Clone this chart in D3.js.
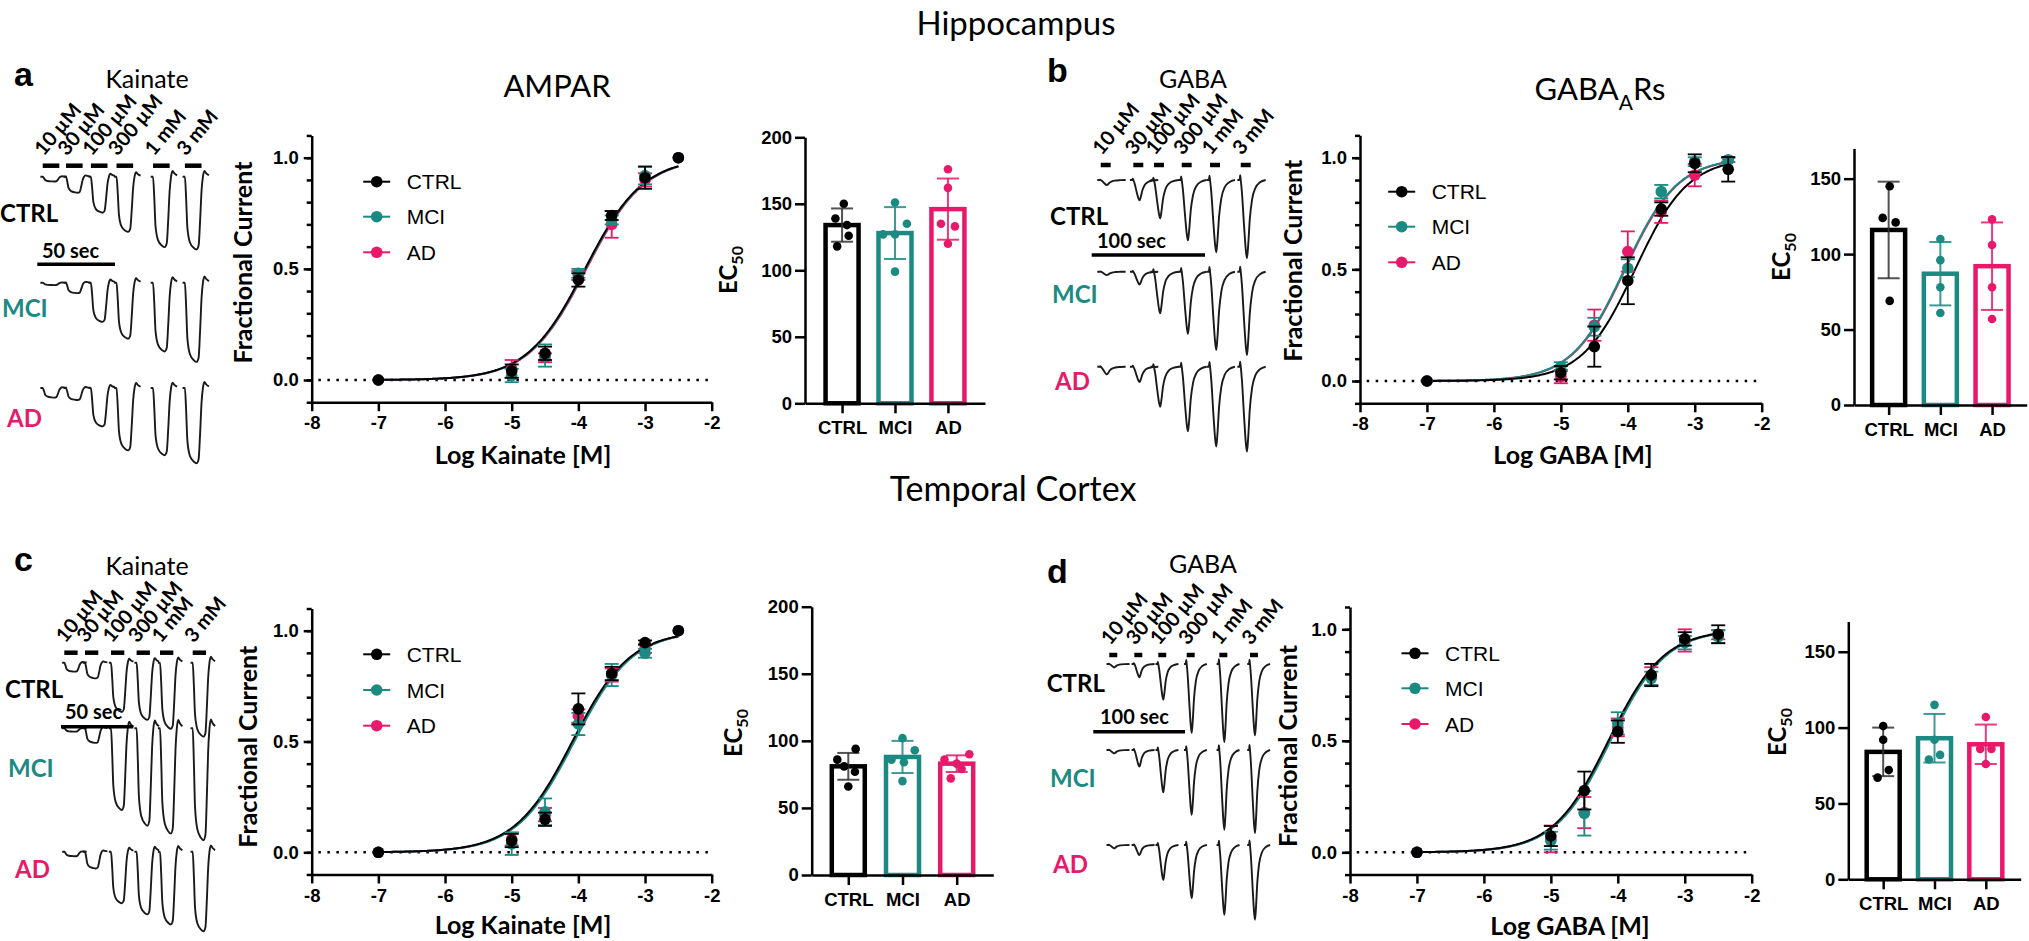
<!DOCTYPE html>
<html><head><meta charset="utf-8">
<script src="https://cdn.jsdelivr.net/npm/d3@7"></script>
<style>body{margin:0;background:#fff}</style>
</head><body>
<svg id="fig" width="2029" height="941"></svg>
<script>
// ---------------- DATA ----------------
const groups = ["CTRL", "MCI", "AD"];
const groupColors = ["#000000", "#1a8a83", "#e8196a"];
const logConc = [-7, -5, -4.5, -4, -3.5, -3, -2.5];
const concLabels = ["10 µM", "30 µM", "100 µM", "300 µM", "1 mM", "3 mM"];
const xTicks = [-8, -7, -6, -5, -4, -3, -2];
const yTicksMajor = [0, 0.5, 1.0];

// a: hippocampus, kainate (AMPAR)
const hipKaiCTRL = [0, 0.04, 0.12, 0.45, 0.74, 0.91, 1.0];
const hipKaiCTRLerr = [0, 0.03, 0.03, 0.03, 0.02, 0.05, 0];
const hipKaiMCI = [0, 0.02, 0.11, 0.48, 0.72, 0.92, 1.0];
const hipKaiMCIerr = [0, 0.03, 0.05, 0.02, 0.02, 0.04, 0];
const hipKaiAD = [0, 0.05, 0.10, 0.47, 0.70, 0.90, 1.0];
const hipKaiADerr = [0, 0.04, 0.02, 0.02, 0.06, 0.03, 0];
const hipKaiLogEC50 = [-3.90, -3.89, -3.88];
const hipKaiHill = [1.0, 1.0, 1.0];
const hipKaiEC50Mean = [134, 128, 146];
const hipKaiEC50SD = [12.5, 19.5, 23];
const hipKaiEC50CTRL = [150, 139, 134, 126, 118];
const hipKaiEC50MCI = [151, 135, 127, 127, 99];
const hipKaiEC50AD = [176, 162, 135, 133, 120];
const hipKaiJitCTRL = [0.25, -0.95, 0.7, 0.95, -0.7];
const hipKaiJitMCI = [0, 1.7, -1.7, 0, 0];
const hipKaiJitAD = [0, 0, -1, 1, 0];
const hipKaiOnsets = [0, 15, 31, 47.5, 71, 91.5];
const hipKaiPeakCTRL = [0.06, 0.20, 0.45, 0.69, 0.88, 0.91];
const hipKaiPeakMCI = [0.03, 0.13, 0.49, 0.70, 0.86, 0.99];
const hipKaiPeakAD = [0.12, 0.15, 0.48, 0.78, 0.84, 0.94];

// b: hippocampus, GABA (GABAA Rs)
const hipGabaCTRL = [0, 0.037, 0.154, 0.449, 0.77, 0.975, 0.948];
const hipGabaCTRLerr = [0, 0.03, 0.09, 0.105, 0.03, 0.04, 0.055];
const hipGabaMCI = [0, 0.064, 0.243, 0.505, 0.848, 0.982, 0.99];
const hipGabaMCIerr = [0, 0.02, 0.04, 0.04, 0.03, 0.02, 0.01];
const hipGabaAD = [0, 0.02, 0.25, 0.58, 0.758, 0.922, 0.99];
const hipGabaADerr = [0, 0.03, 0.07, 0.09, 0.05, 0.05, 0.01];
const hipGabaLogEC50 = [-3.89, -4.05, -4.04];
const hipGabaHill = [1.1, 1.1, 1.1];
const hipGabaEC50Mean = [116, 87, 92];
const hipGabaEC50SD = [32, 21, 29];
const hipGabaEC50CTRL = [145, 124, 121, 69];
const hipGabaEC50MCI = [110, 96, 78, 61];
const hipGabaEC50AD = [123, 106, 78, 57];
const hipGabaJitCTRL = [0.15, -0.85, 1, 0.15];
const hipGabaJitMCI = [0, 0, 0, 0];
const hipGabaJitAD = [0, 0, 0, 0];
const hipGabaOnsets = [0, 28.8, 47, 71.5, 96.5, 123.6];
const hipGabaPeakCTRL = [0.06, 0.24, 0.45, 0.71, 0.85, 0.92];
const hipGabaPeakMCI = [0.04, 0.15, 0.49, 0.73, 0.92, 0.98];
const hipGabaPeakAD = [0.09, 0.18, 0.47, 0.76, 0.94, 1.0];

// c: temporal cortex, kainate
const ctxKaiCTRL = [0, 0.053, 0.149, 0.647, 0.807, 0.946, 1.0];
const ctxKaiCTRLerr = [0, 0.03, 0.03, 0.07, 0.03, 0.01, 0];
const ctxKaiMCI = [0, 0.038, 0.183, 0.579, 0.80, 0.898, 1.0];
const ctxKaiMCIerr = [0, 0.05, 0.06, 0.05, 0.05, 0.02, 0];
const ctxKaiAD = [0, 0.06, 0.17, 0.615, 0.80, 0.92, 1.0];
const ctxKaiADerr = [0, 0.03, 0.03, 0.03, 0.03, 0.02, 0];
const ctxKaiLogEC50 = [-4.09, -4.06, -4.075];
const ctxKaiHill = [1.0, 1.0, 1.0];
const ctxKaiEC50Mean = [81, 88, 83];
const ctxKaiEC50SD = [10, 12, 6.2];
const ctxKaiEC50CTRL = [94, 86, 81, 77, 66];
const ctxKaiEC50MCI = [102, 93, 86, 84, 70];
const ctxKaiEC50AD = [90, 86, 83, 79, 72];
const ctxKaiJitCTRL = [1.05, -1.57, -0.6, 0.95, 0];
const ctxKaiJitMCI = [0, 1.75, -1.57, 0.2, 0];
const ctxKaiJitAD = [1.8, -1.75, 0, 0.7, -0.85];
const ctxKaiOnsets = [0, 14.3, 32.3, 50, 66.2, 88.8];
const ctxKaiPeakCTRL = [0.08, 0.14, 0.44, 0.51, 0.59, 0.66];
const ctxKaiPeakMCI = [0.03, 0.13, 0.73, 0.87, 0.94, 1.0];
const ctxKaiPeakAD = [0.04, 0.15, 0.46, 0.56, 0.65, 0.71];

// d: temporal cortex, GABA
const ctxGabaCTRL = [0, 0.073, 0.277, 0.541, 0.795, 0.957, 0.978];
const ctxGabaCTRLerr = [0, 0.045, 0.085, 0.05, 0.05, 0.03, 0.04];
const ctxGabaMCI = [0, 0.052, 0.175, 0.578, 0.78, 0.94, 0.967];
const ctxGabaMCIerr = [0, 0.04, 0.1, 0.05, 0.03, 0.03, 0.03];
const ctxGabaAD = [0, 0.06, 0.178, 0.56, 0.79, 0.95, 0.975];
const ctxGabaADerr = [0, 0.06, 0.07, 0.04, 0.04, 0.05, 0.02];
const ctxGabaLogEC50 = [-4.14, -4.11, -4.12];
const ctxGabaHill = [1.05, 1.05, 1.05];
const ctxGabaEC50Mean = [84, 93, 89];
const ctxGabaEC50SD = [16, 16, 13];
const ctxGabaEC50CTRL = [101, 92, 72, 67];
const ctxGabaEC50MCI = [115, 92, 82, 79];
const ctxGabaEC50AD = [107, 86, 86, 76];
const ctxGabaJitCTRL = [0, 0, 0.8, -0.8];
const ctxGabaJitMCI = [0, 0, 0.8, -0.8];
const ctxGabaJitAD = [0, -0.8, 0.8, 0];
const ctxGabaOnsets = [0, 27.3, 53.4, 84.4, 120, 153.4];
const ctxGabaPeakCTRL = [0.04, 0.16, 0.43, 0.83, 0.94, 0.86];
const ctxGabaPeakMCI = [0.04, 0.20, 0.51, 0.78, 0.96, 1.0];
const ctxGabaPeakAD = [0.04, 0.12, 0.42, 0.64, 0.84, 0.90];

// ---------------- DRAWING ----------------
const ARIAL = "'Liberation Sans', Arial, sans-serif";
const CAL = "Lato, 'Open Sans', sans-serif";
const svg = d3.select("#fig");
svg.append("rect").attr("width", 2029).attr("height", 941).attr("fill", "#fff");

function txt(x, y, s, o = {}) {
  const t = svg.append("text").attr("x", x).attr("y", y).text(s)
    .attr("font-family", o.family || CAL).attr("font-size", o.size || 20)
    .attr("font-weight", o.weight || "normal").attr("fill", o.fill || "#000")
    .attr("text-anchor", o.anchor || "start");
  if (o.transform) t.attr("transform", o.transform);
  return t;
}

function styleAxis(g, size) {
  g.attr("font-family", ARIAL).attr("font-size", size).attr("font-weight", "bold");
  g.selectAll("path.domain").attr("stroke", "#000").attr("stroke-width", 2.5);
  g.selectAll(".tick line").attr("stroke", "#000").attr("stroke-width", 2.5);
  g.selectAll("text").attr("fill", "#000");
}

function hill(x, logEC50, n) { return 1 / (1 + Math.pow(10, (logEC50 - x) * n)); }

function drawDoseResponse(p) {
  const unit = p.zeroY - p.oneY;
  const x = d3.scaleLinear().domain([-8, -2]).range([p.x0, p.x1]);
  const y = d3.scaleLinear().domain([-0.1, 1.1]).range([p.zeroY + 0.1 * unit, p.oneY - 0.1 * unit]);
  const g = svg.append("g");
  const gm = g.append("g").attr("transform", `translate(${p.x0},0)`)
    .call(d3.axisLeft(y).tickValues(d3.range(-1, 12).map(i => i / 10)).tickSize(5).tickFormat(""));
  gm.select(".domain").remove();
  styleAxis(gm, 18.5);
  const gy = g.append("g").attr("transform", `translate(${p.x0},0)`)
    .call(d3.axisLeft(y).tickValues(yTicksMajor).tickSize(8).tickSizeOuter(0).tickPadding(5).tickFormat(d3.format(".1f")));
  styleAxis(gy, 18.5);
  const gx = g.append("g").attr("transform", `translate(0,${y(-0.1)})`)
    .call(d3.axisBottom(x).tickValues(xTicks).tickSize(9).tickSizeOuter(0).tickPadding(5).tickFormat(d => String(d)));
  styleAxis(gx, 18.5);
  g.append("line").attr("x1", x(-7.9)).attr("x2", x(-2)).attr("y1", y(0)).attr("y2", y(0))
    .attr("stroke", "#000").attr("stroke-width", 2.5).attr("stroke-dasharray", "2.5,6.5");
  const xs = d3.range(-7, -2.499, 0.02);
  [2, 1, 0].forEach(gi => {
    const line = d3.line().x(d => x(d)).y(d => y(hill(d, p.logEC50[gi], p.hill[gi])));
    g.append("path").attr("d", line(xs)).attr("fill", "none")
      .attr("stroke", groupColors[gi]).attr("stroke-width", 2);
  });
  [2, 1, 0].forEach(gi => {
    const m = p.means[gi], e = p.errs[gi], c = groupColors[gi];
    logConc.forEach((lc, i) => {
      if (e[i] > 0) {
        const cx = x(lc);
        g.append("line").attr("x1", cx).attr("x2", cx).attr("y1", y(m[i] - e[i])).attr("y2", y(m[i] + e[i])).attr("stroke", c).attr("stroke-width", 1.8);
        [m[i] - e[i], m[i] + e[i]].forEach(v => g.append("line").attr("x1", cx - 7).attr("x2", cx + 7).attr("y1", y(v)).attr("y2", y(v)).attr("stroke", c).attr("stroke-width", 1.8));
      }
    });
    g.selectAll(null).data(logConc).enter().append("circle")
      .attr("cx", d => x(d)).attr("cy", (d, i) => y(m[i])).attr("r", 5.8).attr("fill", c);
  });
  groups.forEach((gname, gi) => {
    const ly = p.legY[gi];
    g.append("line").attr("x1", p.legX - 13.5).attr("x2", p.legX + 13.5).attr("y1", ly).attr("y2", ly).attr("stroke", groupColors[gi]).attr("stroke-width", 2);
    g.append("circle").attr("cx", p.legX).attr("cy", ly).attr("r", 5.8).attr("fill", groupColors[gi]);
    txt(p.legX + 30, ly + 7.5, gname, { family: ARIAL, size: 21 });
  });
  txt(p.yLabX, p.yLabY, "Fractional Current", { size: 25, weight: "bold", anchor: "middle", transform: `rotate(-90,${p.yLabX},${p.yLabY})` });
  txt(p.xLabX, p.xLabY, p.xLabel, { size: 25, weight: "bold", anchor: "middle" });
}

function drawBars(p) {
  const x = d3.scalePoint().domain(groups).range([p.ax, p.axEnd]).padding(p.pad);
  const y = d3.scaleLinear().domain([0, p.yMax]).range([p.zeroY, p.zeroY - p.yMax * p.pxPerUnit]);
  const g = svg.append("g");
  const bw = 33;
  groups.forEach((gn, gi) => {
    const cx = x(gn), c = groupColors[gi];
    g.append("rect").attr("x", cx - bw / 2).attr("y", y(p.means[gi])).attr("width", bw)
      .attr("height", p.zeroY - y(p.means[gi])).attr("fill", "#fff").attr("stroke", c).attr("stroke-width", 4.5);
  });
  const gy = g.append("g").attr("transform", `translate(${p.ax},0)`)
    .call(d3.axisLeft(y).tickValues(p.ticks).tickSize(10).tickSizeOuter(0).tickPadding(3));
  styleAxis(gy, 18.5);
  const gx = g.append("g").attr("transform", `translate(0,${p.zeroY})`)
    .call(d3.axisBottom(x).tickSize(10).tickSizeOuter(0).tickPadding(8));
  styleAxis(gx, 18.5);
  groups.forEach((gn, gi) => {
    const cx = x(gn), c = gi === 0 ? "#333" : groupColors[gi];
    const m = p.means[gi], s = p.sds[gi];
    g.append("line").attr("x1", cx).attr("x2", cx).attr("y1", y(m - s)).attr("y2", y(m + s)).attr("stroke", c).attr("stroke-width", 2).attr("opacity", 0.85);
    [m - s, m + s].forEach(v => g.append("line").attr("x1", cx - 11).attr("x2", cx + 11).attr("y1", y(v)).attr("y2", y(v)).attr("stroke", c).attr("stroke-width", 2).attr("opacity", 0.85));
    g.selectAll(null).data(p.points[gi]).enter().append("circle")
      .attr("cx", (d, i) => cx + p.jitter[gi][i] * 7).attr("cy", d => y(d)).attr("r", 4.3).attr("fill", groupColors[gi]);
  });
  const lab = txt(p.labX, p.labY, "EC", { size: 24, weight: "bold", anchor: "middle", transform: `rotate(-90,${p.labX},${p.labY})` });
  lab.append("tspan").attr("font-size", 16).attr("dy", 6).text("50");
}

const kaiShape = [[-1.5, 0], [0, 0], [0.8, 0.3], [1.6, 0.7], [3.2, 0.9], [5.8, 0.98], [7.5, 1.0], [8.8, 0.95], [9.8, 0.6], [10.7, 0.2], [11.6, 0], [12.6, -0.08], [13.6, -0.05], [15.5, -0.02]];
const gabaShape = [[-3, 0], [-1, 0], [-0.5, -0.06], [0, 0], [1, 0.15], [3, 0.6], [4.5, 0.9], [5.5, 1.0], [6.5, 0.85], [8, 0.5], [10, 0.25], [13, 0.1], [17, 0.03], [22, 0]];

function drawTraces(p) {
  const t = d3.scaleLinear().domain([0, 100]).range([p.x0, p.x0 + 100 * p.pxPerSec]);
  const g = svg.append("g");
  p.onsets.forEach((on, i) => {
    g.append("line").attr("x1", t(on)).attr("x2", t(on + p.barDur)).attr("y1", p.barY).attr("y2", p.barY)
      .attr("stroke", "#000").attr("stroke-width", 4.5);
    txt(0, 0, concLabels[i], { size: 20, weight: "bold", transform: `translate(${t(on) + 1},${p.barY - 9}) rotate(-50)` });
  });
  p.peaks.forEach((arr, gi) => {
    const amp = d3.scaleLinear().domain([0, 1]).range([p.baselines[gi], p.baselines[gi] + p.ampPx]);
    arr.forEach((pk, i) => {
      const line = d3.line().x(d => t(p.onsets[i] + d[0])).y(d => amp(pk * d[1])).curve(d3.curveMonotoneX);
      g.append("path").attr("d", line(p.shape)).attr("fill", "none").attr("stroke", "#1a1a1a").attr("stroke-width", 1.9);
    });
    txt(p.labelX[gi], p.labelY[gi], groups[gi], { size: 24, weight: "bold", fill: gi === 0 ? "#000" : groupColors[gi] });
  });
  g.append("line").attr("x1", p.sbX).attr("x2", p.sbX + (t(p.sbSec) - t(0))).attr("y1", p.sbY).attr("y2", p.sbY)
    .attr("stroke", "#000").attr("stroke-width", 3.5);
  txt(p.sbTextX, p.sbTextY, p.sbSec + " sec", { size: 20, weight: "bold" });
  txt(p.letterX, p.letterY, p.letter, { family: ARIAL, size: 34, weight: "bold" });
  txt(p.drugX, p.drugY, p.drug, { size: 25, anchor: "middle" });
}

// Section titles
txt(1016, 35, "Hippocampus", { size: 33, anchor: "middle" });
txt(1013, 501, "Temporal Cortex", { size: 34, anchor: "middle" });
// Line chart titles
txt(557, 97, "AMPAR", { size: 31, anchor: "middle" });
const gt = txt(1600, 100, "GABA", { size: 31, anchor: "middle" });
gt.append("tspan").attr("font-size", 21).attr("dy", 10).text("A");
gt.append("tspan").attr("dy", -10).text("Rs");

// ---- Panel a
drawTraces({ letter: "a", letterX: 14, letterY: 86, drug: "Kainate", drugX: 147, drugY: 88,
  x0: 42.7, pxPerSec: 1.554, onsets: hipKaiOnsets, barDur: 10.7, barY: 165.7,
  baselines: [176.7, 282.7, 388], ampPx: 80, shape: kaiShape,
  peaks: [hipKaiPeakCTRL, hipKaiPeakMCI, hipKaiPeakAD],
  labelX: [0, 2, 7], labelY: [222, 317, 427],
  sbSec: 50, sbX: 37.3, sbY: 264.3, sbTextX: 42, sbTextY: 258 });
drawDoseResponse({ x0: 311.7, x1: 711.7, zeroY: 380, oneY: 157.7,
  means: [hipKaiCTRL, hipKaiMCI, hipKaiAD], errs: [hipKaiCTRLerr, hipKaiMCIerr, hipKaiADerr],
  logEC50: hipKaiLogEC50, hill: hipKaiHill,
  legX: 376.7, legY: [181.7, 216.7, 252.3],
  yLabX: 252, yLabY: 262.5, xLabX: 523, xLabY: 464, xLabel: "Log Kainate [M]" });
drawBars({ ax: 805, axEnd: 985, pad: 0.7, zeroY: 403.3, pxPerUnit: 1.33, yMax: 200, ticks: [0, 50, 100, 150, 200],
  means: hipKaiEC50Mean, sds: hipKaiEC50SD, points: [hipKaiEC50CTRL, hipKaiEC50MCI, hipKaiEC50AD],
  jitter: [hipKaiJitCTRL, hipKaiJitMCI, hipKaiJitAD], labX: 737, labY: 270 });

// ---- Panel b
drawTraces({ letter: "b", letterX: 1047, letterY: 82, drug: "GABA", drugX: 1193, drugY: 88,
  x0: 1100.7, pxPerSec: 1.133, onsets: hipGabaOnsets, barDur: 8.8, barY: 165,
  baselines: [180, 271.7, 366.7], ampPx: 85, shape: gabaShape,
  peaks: [hipGabaPeakCTRL, hipGabaPeakMCI, hipGabaPeakAD],
  labelX: [1050, 1052, 1055], labelY: [225, 303, 390],
  sbSec: 100, sbX: 1091.7, sbY: 255, sbTextX: 1097, sbTextY: 248 });
drawDoseResponse({ x0: 1360, x1: 1761.7, zeroY: 381, oneY: 157.7,
  means: [hipGabaCTRL, hipGabaMCI, hipGabaAD], errs: [hipGabaCTRLerr, hipGabaMCIerr, hipGabaADerr],
  logEC50: hipGabaLogEC50, hill: hipGabaHill,
  legX: 1401.7, legY: [191.7, 226.7, 262.3],
  yLabX: 1301.7, yLabY: 260.7, xLabX: 1573, xLabY: 464, xLabel: "Log GABA [M]" });
drawBars({ ax: 1854, axEnd: 2026.7, pad: 0.67, zeroY: 405, pxPerUnit: 1.509, yMax: 170, ticks: [0, 50, 100, 150],
  means: hipGabaEC50Mean, sds: hipGabaEC50SD, points: [hipGabaEC50CTRL, hipGabaEC50MCI, hipGabaEC50AD],
  jitter: [hipGabaJitCTRL, hipGabaJitMCI, hipGabaJitAD], labX: 1790, labY: 257 });

// ---- Panel c
drawTraces({ letter: "c", letterX: 14, letterY: 571, drug: "Kainate", drugX: 147, drugY: 575,
  x0: 64.3, pxPerSec: 1.446, onsets: ctxKaiOnsets, barDur: 9.2, barY: 652.7,
  baselines: [662.7, 728.3, 851.7], ampPx: 112, shape: kaiShape,
  peaks: [ctxKaiPeakCTRL, ctxKaiPeakMCI, ctxKaiPeakAD],
  labelX: [5, 8, 15], labelY: [698, 777, 878],
  sbSec: 50, sbX: 61, sbY: 726.7, sbTextX: 65, sbTextY: 719 });
drawDoseResponse({ x0: 311.7, x1: 711.7, zeroY: 852.3, oneY: 630.7,
  means: [ctxKaiCTRL, ctxKaiMCI, ctxKaiAD], errs: [ctxKaiCTRLerr, ctxKaiMCIerr, ctxKaiADerr],
  logEC50: ctxKaiLogEC50, hill: ctxKaiHill,
  legX: 376.7, legY: [654.3, 690, 725.7],
  yLabX: 256.7, yLabY: 746.7, xLabX: 523, xLabY: 934, xLabel: "Log Kainate [M]" });
drawBars({ ax: 811.7, axEnd: 993.3, pad: 0.675, zeroY: 875, pxPerUnit: 1.3415, yMax: 200, ticks: [0, 50, 100, 150, 200],
  means: ctxKaiEC50Mean, sds: ctxKaiEC50SD, points: [ctxKaiEC50CTRL, ctxKaiEC50MCI, ctxKaiEC50AD],
  jitter: [ctxKaiJitCTRL, ctxKaiJitMCI, ctxKaiJitAD], labX: 741.7, labY: 733 });

// ---- Panel d
drawTraces({ letter: "d", letterX: 1047, letterY: 583, drug: "GABA", drugX: 1203, drugY: 573,
  x0: 1109.3, pxPerSec: 0.917, onsets: ctxGabaOnsets, barDur: 8.7, barY: 655,
  baselines: [664, 750, 845], ampPx: 83, shape: gabaShape,
  peaks: [ctxGabaPeakCTRL, ctxGabaPeakMCI, ctxGabaPeakAD],
  labelX: [1046.7, 1050, 1053], labelY: [691.7, 786.7, 873.3],
  sbSec: 100, sbX: 1093.3, sbY: 731.7, sbTextX: 1100, sbTextY: 724 });
drawDoseResponse({ x0: 1350, x1: 1751.7, zeroY: 852.3, oneY: 629.3,
  means: [ctxGabaCTRL, ctxGabaMCI, ctxGabaAD], errs: [ctxGabaCTRLerr, ctxGabaMCIerr, ctxGabaADerr],
  logEC50: ctxGabaLogEC50, hill: ctxGabaHill,
  legX: 1415, legY: [653.3, 688.3, 724],
  yLabX: 1296.7, yLabY: 746, xLabX: 1570, xLabY: 935, xLabel: "Log GABA [M]" });
drawBars({ ax: 1848.3, axEnd: 2020.7, pad: 0.68, zeroY: 879.3, pxPerUnit: 1.517, yMax: 170, ticks: [0, 50, 100, 150],
  means: ctxGabaEC50Mean, sds: ctxGabaEC50SD, points: [ctxGabaEC50CTRL, ctxGabaEC50MCI, ctxGabaEC50AD],
  jitter: [ctxGabaJitCTRL, ctxGabaJitMCI, ctxGabaJitAD], labX: 1786, labY: 732 });
</script>
</body></html>
